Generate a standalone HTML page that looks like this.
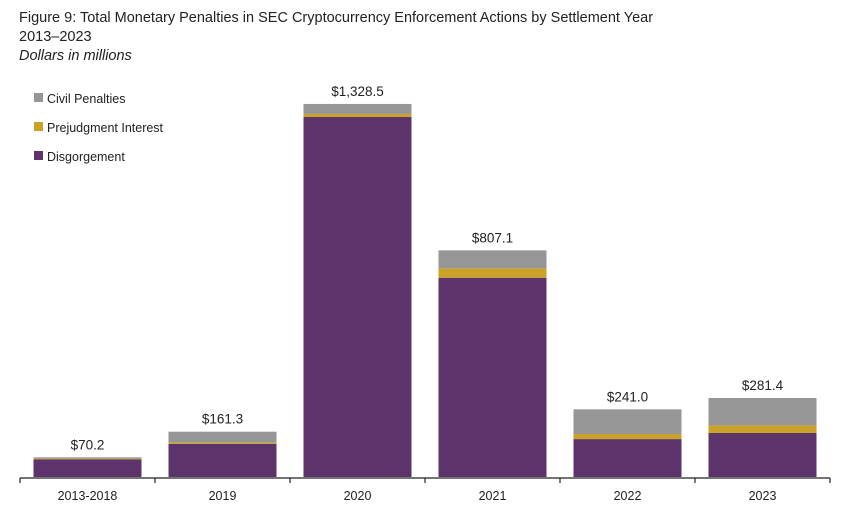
<!DOCTYPE html>
<html><head><meta charset="utf-8"><style>
body{margin:0;background:#fff;font-family:"Liberation Sans",sans-serif;}
svg text{font-family:"Liberation Sans",sans-serif;fill:#222;}
</style></head><body>
<svg id="chart" width="850" height="509">
<text x="19" y="22" font-size="14.5">Figure 9: Total Monetary Penalties in SEC Cryptocurrency Enforcement Actions by Settlement Year</text>
<text x="19" y="41" font-size="14.5">2013–2023</text>
<text x="19" y="60" font-size="14.5" font-style="italic">Dollars in millions</text>
<g>
<rect x="34" y="93" width="9" height="9" fill="#969696"/>
<text x="47" y="103" font-size="12.5">Civil Penalties</text>
<rect x="34" y="122" width="9" height="9" fill="#c9a227"/>
<text x="47" y="132" font-size="12.5">Prejudgment Interest</text>
<rect x="34" y="151" width="9" height="9" fill="#5c346b"/>
<text x="47" y="161" font-size="12.5">Disgorgement</text>
</g>
<g id="bars"></g>
<g id="axis"></g>
</svg>
<script>
const categories=["2013-2018","2019","2020","2021","2022","2023"];
const disgorgement=[63.2,117.7,1282,709.6,135,156.8];
const interest=[3,4.6,11,33.5,18,27];
const civil=[4,39,35.5,64,88,97.6];
const totals=["$70.2","$161.3","$1,328.5","$807.1","$241.0","$281.4"];
const NS="http://www.w3.org/2000/svg";
const x0=20,catW=135,barW=108,base=477,k=0.2808;
const xC=i=>x0+catW*(i+0.5);
const y=v=>base-v*k;
const bars=document.getElementById('bars'),axis=document.getElementById('axis');
function mk(tag,attrs,parent){const e=document.createElementNS(NS,tag);for(const a in attrs)e.setAttribute(a,attrs[a]);parent.appendChild(e);return e;}
const series=[[disgorgement,"#5c346b","disgorgement"],[interest,"#c9a227","interest"],[civil,"#969696","civil"]];
categories.forEach((c,i)=>{
 let cum=0;
 series.forEach(([arr,col,nm])=>{
  const r=mk('rect',{x:xC(i)-barW/2,y:y(cum+arr[i]),width:barW,height:arr[i]*k,fill:col},bars);
  
  
  cum+=arr[i];
 });
 const t=mk('text',{x:xC(i),y:y(cum)-8,'text-anchor':'middle','font-size':13.5},bars);
 t.textContent=totals[i];
 
 
 const l=mk('text',{x:xC(i),y:500,'text-anchor':'middle','font-size':12.5},axis);
 l.textContent=c;
 
 
});
const ax=mk('line',{x1:x0,x2:x0+catW*categories.length,y1:base+1,y2:base+1,stroke:'#222','stroke-width':1.2},axis);


for(let i=0;i<=categories.length;i++){
 const tk=mk('line',{x1:x0+catW*i,x2:x0+catW*i,y1:base+1,y2:base+6,stroke:'#222','stroke-width':1.2},axis);
 
 
}
</script>
</body></html>
